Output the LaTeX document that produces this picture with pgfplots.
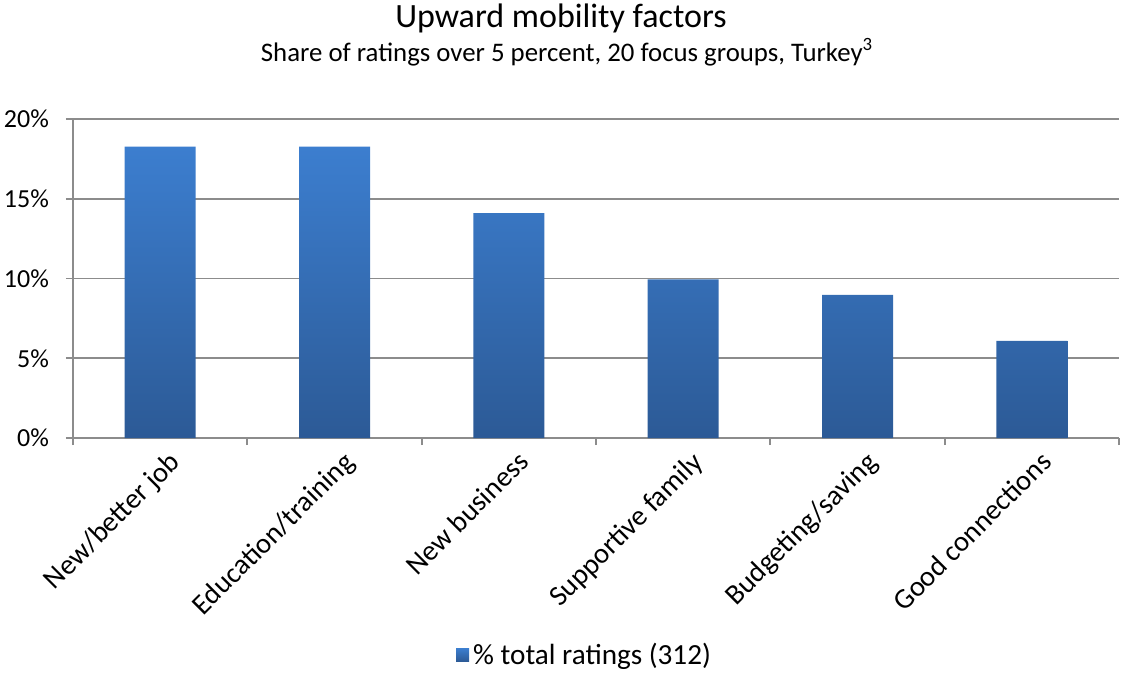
\documentclass[border=0pt]{standalone}
\usepackage{fontspec}
\setmainfont{Carlito}
\usepackage{pgfplots}
\pgfplotsset{compat=1.18}
\definecolor{bartop}{HTML}{3C7ECF}
\definecolor{barbot}{HTML}{2C5A96}
\definecolor{gridgray}{HTML}{8C8C8C}

\begin{document}
\begin{tikzpicture}
\useasboundingbox (-36.5pt,-117.5pt) rectangle (524.5pt,219pt);
\begin{axis}[
  at={(0,0)}, anchor=south west,
  scale only axis, width=523pt, height=159.5pt,
  ymin=0, ymax=20, ytick={0,5,10,15,20},
  xmin=-0.5, xmax=5.5, xtick={0,...,5},
  minor xtick={-0.5,0.5,...,5.5},
  xticklabels={New/better job, Education/training, New business, Supportive family, Budgeting/saving, Good connections},
  axis lines=left, axis line style={-, draw=gridgray, line width=0.9pt},
  ymajorgrids, grid style={gridgray, line width=0.9pt},
  major x tick style={draw=none},
  minor x tick style={draw=gridgray, line width=0.9pt},
  ytick style={draw=gridgray, line width=0.9pt},
  tick align=outside, major tick length=3.5pt, minor tick length=3.5pt,
  /pgf/number format/assume math mode=true,
  yticklabel={\pgfmathprintnumber{\tick}\%},
  yticklabel style={font=\fontsize{13}{15}\selectfont, xshift=-5pt},
  xticklabel style={font=\fontsize{14.3}{16}\selectfont, rotate=45, anchor=north east, inner sep=1pt, xshift=2pt, yshift=-3pt},
  legend style={at={(axis description cs:0.49,-0.68)}, anchor=center, draw=none, fill=none,
    font=\fontsize{14.6}{16}\selectfont, legend columns=-1, inner sep=1pt},
  legend image code/.code={\path[#1] (0pt,-3.2pt) rectangle (6.5pt,3.3pt);},
]
\addplot[ybar, bar width=35.5pt, draw=none, top color=bartop, bottom color=barbot]
  coordinates {(0,18.27) (1,18.27) (2,14.10) (3,9.94) (4,8.97) (5,6.09)};
\addlegendentry{\% total ratings (312)}
\end{axis}
\node[font=\fontsize{17}{19}\selectfont] at (244pt,210pt) {Upward mobility factors};
\node[font=\fontsize{13.4}{15}\selectfont] at (247pt,193pt) {Share of ratings over 5 percent, 20 focus groups, Turkey\textsuperscript{3}};
\end{tikzpicture}
\end{document}
